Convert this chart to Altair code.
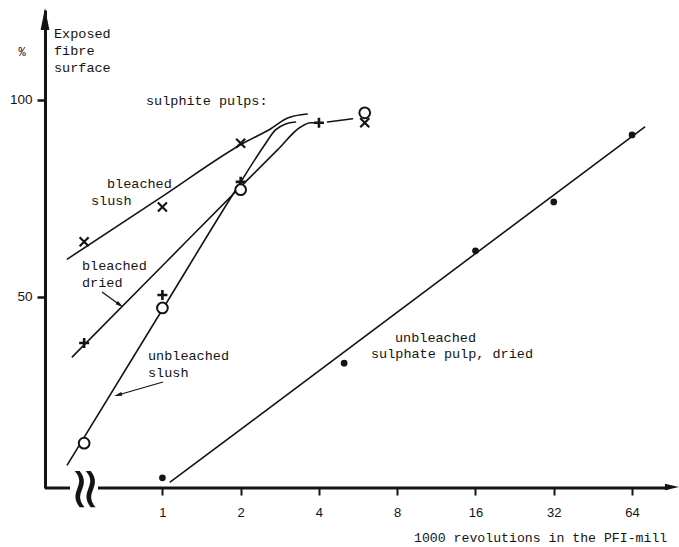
import altair as alt
import numpy as np
import pandas as pd

# Measured points: revolutions in thousands (0 = unbeaten pulp, placed at the axis break)
bleached_slush_revs = [0, 1, 2, 6]
bleached_slush_pct = [64.0, 72.8, 89.0, 94.2]
bleached_dried_revs = [0, 1, 2, 4]
bleached_dried_pct = [38.3, 50.5, 79.2, 94.2]
unbleached_slush_revs = [0, 1, 2, 6]
unbleached_slush_pct = [12.9, 47.2, 77.2, 96.7]
sulphate_revs = [1, 5, 16, 32, 64]
sulphate_pct = [4.1, 33.2, 61.7, 74.1, 91.1]

# Drawn curves, x given as log2(1000 revolutions)
bleached_slush_curve_x = [-1.215, 0.0, 1.06, 1.38, 1.6, 1.85]
bleached_slush_curve_y = [59.6, 75.5, 89.3, 92.6, 95.4, 96.4]
bleached_dried_curve_x = [-1.151, 0.0, 1.061, 1.47, 1.765, 1.893, 1.98]
bleached_dried_curve_y = [34.8, 57.9, 79.2, 87.3, 93.1, 94.2, 94.2]
bleached_dried_tail_x = [2.11, 2.43]
bleached_dried_tail_y = [94.4, 95.2]
unbleached_slush_curve_x = [-1.215, 0.0, 0.97, 1.29, 1.445, 1.573, 1.70]
unbleached_slush_curve_y = [7.4, 46.8, 78.2, 88.1, 92.4, 93.9, 94.4]
sulphate_curve_x = [0.102, 6.16]
sulphate_curve_y = [3.05, 93.1]

x_tick_values = [0, 1, 2, 3, 4, 5, 6]          # log2 positions of 1, 2, 4 ... 64
y_tick_values = [50, 100]
BREAK_POS = -1.0                                 # slot used for the unbeaten samples

INK = "#141414"
MONO = "Liberation Mono"
SANS = "Liberation Sans"

W, H = 634, 478
PAD_L, PAD_T = 45, 10

x_scale = alt.Scale(domain=[-1.5, 6.6], nice=False, zero=False)
y_scale = alt.Scale(domain=[1.52, 122.8], nice=False, zero=False)


def to_pos(revs):
    return [float(np.log2(r)) if r > 0 else BREAK_POS for r in revs]


def points(revs, pct, name):
    return pd.DataFrame({"pos": to_pos(revs), "pct": pct, "series": name})


def curve(xs, ys, name):
    return pd.DataFrame({"pos": xs, "pct": ys, "curve": name})


curves = pd.concat([
    curve(bleached_slush_curve_x, bleached_slush_curve_y, "bleached slush"),
    curve(bleached_dried_curve_x, bleached_dried_curve_y, "bleached dried"),
    curve(bleached_dried_tail_x, bleached_dried_tail_y, "bleached dried tail"),
    curve(unbleached_slush_curve_x, unbleached_slush_curve_y, "unbleached slush"),
    curve(sulphate_curve_x, sulphate_curve_y, "sulphate"),
])

X = alt.X("pos:Q", scale=x_scale,
          axis=alt.Axis(values=x_tick_values, labelExpr="pow(2, datum.value)",
                        domain=False, grid=False, ticks=True, tickSize=7,
                        tickWidth=2, tickColor=INK, labelFont=SANS,
                        labelFontSize=13, labelColor=INK, labelPadding=11,
                        title=None))
Y = alt.Y("pct:Q", scale=y_scale,
          axis=alt.Axis(values=y_tick_values, domain=True, domainWidth=3,
                        domainColor=INK, grid=False, tickSize=8, tickWidth=2.5,
                        tickColor=INK, labelFont=SANS, labelFontSize=13.5,
                        labelColor=INK, labelPadding=5, title=None))

lines = alt.Chart(curves).mark_line(
    color=INK, strokeWidth=1.6, interpolate="monotone", strokeCap="round"
).encode(x=X, y=Y, detail="curve:N")

X_SHAPE = "M-1,-1L1,1M-1,1L1,-1"
PLUS_SHAPE = "M-1,0L1,0M0,-1L0,1"

crosses = alt.Chart(points(bleached_slush_revs, bleached_slush_pct, "bs")).mark_point(
    shape=X_SHAPE, filled=False, size=81, strokeWidth=2.2, color=INK, opacity=1
).encode(x="pos:Q", y="pct:Q")

pluses = alt.Chart(points(bleached_dried_revs, bleached_dried_pct, "bd")).mark_point(
    shape=PLUS_SHAPE, filled=False, size=100, strokeWidth=2.6, color=INK, opacity=1
).encode(x="pos:Q", y="pct:Q")

rings = alt.Chart(points(unbleached_slush_revs, unbleached_slush_pct, "us")).mark_point(
    shape="circle", filled=True, fill="white", stroke=INK, size=115,
    strokeWidth=2, opacity=1
).encode(x="pos:Q", y="pct:Q")

dots = alt.Chart(points(sulphate_revs, sulphate_pct, "su")).mark_point(
    shape="circle", filled=True, color=INK, size=45, opacity=1
).encode(x="pos:Q", y="pct:Q")

# Broken x axis: short stub by the y axis, then the main run up to the arrow
axis_runs = pd.DataFrame({"x0": [-1.5, -0.823], "x1": [-1.18, 6.47]})
x_axis = alt.Chart(axis_runs).mark_rule(color=INK, strokeWidth=3).encode(
    x=alt.X("x0:Q", scale=x_scale), x2="x1:Q", y=alt.value(H)
)
x_arrow = alt.Chart(pd.DataFrame({"pos": [6.51]})).mark_point(
    shape="M1,0L-1,-0.45L-1,0.45Z", filled=True, color=INK, size=196, opacity=1
).encode(x=alt.X("pos:Q", scale=x_scale), y=alt.value(H - 1))
y_arrow = alt.Chart(pd.DataFrame({"a": [0]})).mark_point(
    shape="M0,-1L0.4,1L-0.4,1Z", filled=True, color=INK, size=484, opacity=1
).encode(x=alt.value(0), y=alt.value(9))
# Break symbol: a double wave standing upright across the axis
break_mark = alt.Chart(pd.DataFrame({"pos": [-1.0], "t": ["\u2248"]})).mark_text(
    font="DejaVu Sans", fontSize=58, color=INK,
    baseline="middle", align="center", angle=90
).encode(x=alt.X("pos:Q", scale=x_scale), y=alt.value(H + 1), text="t:N")

# Typed annotations: (text, left x, centre y, size) in page pixels
labels = [
    ("Exposed", 54, 33, 13.5), ("fibre", 54, 50, 13.5), ("surface", 54, 67, 13.5),
    ("sulphite pulps:", 146, 100, 13.5),
    ("bleached", 107, 183, 13.5), ("slush", 91, 200, 13.5),
    ("bleached", 82, 265, 13.5), ("dried", 82, 282, 13.5),
    ("unbleached", 148, 355, 13.5), ("slush", 148, 372, 13.5),
    ("unbleached", 395, 337, 13.5), ("sulphate pulp, dried", 371, 353, 13.5),
    ("1000 revolutions in the PFI-mill", 414, 537, 13.2),
]
text_layers = [
    alt.Chart(pd.DataFrame({"t": [t]})).mark_text(
        font=MONO, fontSize=fs, color=INK, align="left", baseline="middle"
    ).encode(x=alt.value(px - PAD_L), y=alt.value(py - PAD_T + 1), text="t:N")
    for t, px, py, fs in labels
]
percent = alt.Chart(pd.DataFrame({"t": ["%"]})).mark_text(
    font=MONO, fontSize=12, color=INK, align="center", baseline="middle"
).encode(x=alt.value(22 - PAD_L), y=alt.value(52 - PAD_T), text="t:N")

# Pointer arrows from labels to their curves: (x0, y0, x1, y1, head angle)
pointers = [(102, 292, 120, 305, 36), (163, 382, 118, 395, 164)]
pointer_layers = []
for x0, y0, x1, y1, ang in pointers:
    d = pd.DataFrame({"a": [0]})
    pointer_layers.append(alt.Chart(d).mark_rule(color=INK, strokeWidth=1.3).encode(
        x=alt.value(x0 - PAD_L), y=alt.value(y0 - PAD_T),
        x2=alt.value(x1 - PAD_L), y2=alt.value(y1 - PAD_T)))
    pointer_layers.append(alt.Chart(d).mark_point(
        shape="M1,0L-1,-0.5L-1,0.5Z", filled=True, color=INK, size=64,
        angle=ang, opacity=1
    ).encode(x=alt.value(x1 - PAD_L), y=alt.value(y1 - PAD_T)))

chart = alt.layer(
    lines, x_axis, x_arrow, y_arrow, break_mark,
    crosses, pluses, rings, dots,
    *pointer_layers, *text_layers, percent,
).properties(
    width=W, height=H,
    autosize=alt.AutoSizeParams(type="none"),
    padding={"left": PAD_L, "top": PAD_T, "right": 0, "bottom": 59},
    background="white",
).configure_view(stroke=None)

chart.save("out.html", embed_options={"renderer": "svg", "actions": False})
